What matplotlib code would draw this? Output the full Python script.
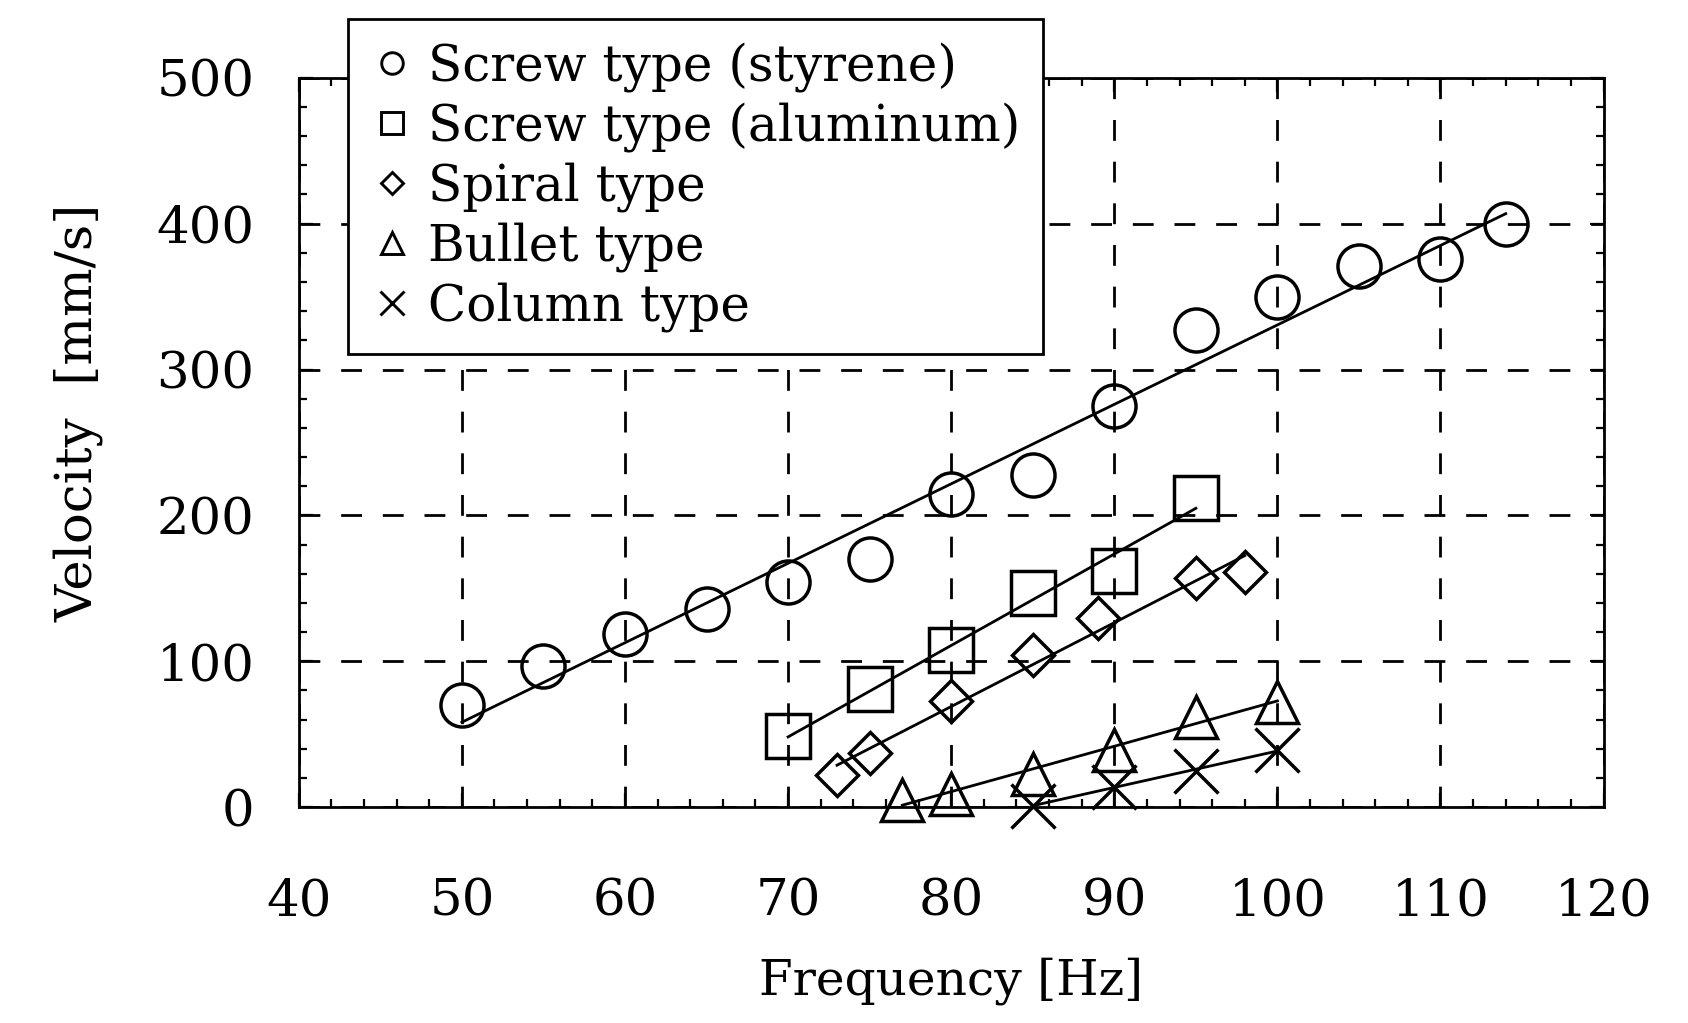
import numpy as np
import matplotlib
matplotlib.use("Agg")
import matplotlib.pyplot as plt
from matplotlib.lines import Line2D
from matplotlib.ticker import MultipleLocator

plt.rcParams['font.family'] = ['DejaVu Serif', 'Liberation Serif']

# ---- data ----
freq_styrene = [50, 55, 60, 65, 70, 75, 80, 85, 90, 95, 100, 105, 110, 114]
vel_styrene = [70, 97, 119, 136, 154, 170, 215, 228, 275, 327, 350, 371, 376, 400]

freq_alum = [70, 75, 80, 85, 90, 95]
vel_alum = [49, 81, 108, 147, 162, 212]

freq_spiral = [73, 75, 80, 85, 89, 95, 98]
vel_spiral = [22, 37, 73, 104, 130, 157, 161]

freq_bullet = [77, 80, 85, 90, 95, 100]
vel_bullet = [5, 9, 23, 39, 62, 72]

freq_column = [85, 90, 95, 100]
vel_column = [1, 14, 25, 39]

labels = ["Screw type (styrene)", "Screw type (aluminum)", "Spiral type",
          "Bullet type", "Column type"]
xticks = [40, 50, 60, 70, 80, 90, 100, 110, 120]
yticks = [0, 100, 200, 300, 400, 500]

series = [
    (freq_styrene, vel_styrene, 'o', 31, 15.5),
    (freq_alum, vel_alum, 's', 32, 16.5),
    (freq_spiral, vel_spiral, 'D', 21, 11),
    (freq_bullet, vel_bullet, '^', 30, 16),
    (freq_column, vel_column, 'x', 31, 17),
]

fig = plt.figure(figsize=(16.88, 10.23), dpi=100)
ax = fig.add_axes([0.177, 0.211, 0.773, 0.713])

for fx, fy, mk, ms, _ in series:
    fx = np.asarray(fx, float)
    fy = np.asarray(fy, float)
    k, b = np.polyfit(fx, fy, 1)
    xl = np.array([fx.min(), fx.max()])
    ax.plot(xl, k * xl + b, color='black', lw=2.0, zorder=3)
    ax.plot(fx, fy, linestyle='none', marker=mk, markersize=ms,
            markerfacecolor='none', markeredgecolor='black',
            markeredgewidth=2.5, zorder=4, clip_on=False)

ax.set_xlim(40, 120)
ax.set_ylim(0, 500)
ax.set_xticks(xticks)
ax.set_yticks(yticks)
ax.xaxis.set_minor_locator(MultipleLocator(2))
ax.yaxis.set_minor_locator(MultipleLocator(20))
ax.tick_params(which='both', direction='in', top=True, right=True,
               colors='black', width=1.6)
ax.tick_params(which='major', length=10)
ax.tick_params(which='minor', length=6)
ax.tick_params(axis='x', which='major', pad=50, labelsize=37)
ax.tick_params(axis='y', which='major', pad=32, labelsize=37)

for s in ax.spines.values():
    s.set_linewidth(2.0)
    s.set_color('black')

ax.grid(True, which='major', color='black', linewidth=2.0,
        linestyle=(0, (7.5, 7.5)), zorder=1)
ax.set_axisbelow(True)

ax.set_xlabel("Frequency [Hz]", fontsize=35)
ax.xaxis.set_label_coords(0.5, -0.205)
ax.set_ylabel("Velocity  [mm/s]", fontsize=37)
ax.yaxis.set_label_coords(-0.15, 0.54)

handles = [Line2D([], [], linestyle='none', marker=mk, markersize=lms,
                  markerfacecolor='none', markeredgecolor='black',
                  markeredgewidth=2.1)
           for (_, _, mk, _, lms) in series]
leg = ax.legend(handles, labels, loc='upper left',
                bbox_to_anchor=(0.0376, 1.080), fontsize=36,
                frameon=True, fancybox=False, edgecolor='black',
                framealpha=1.0, borderpad=0.45, handlelength=0.85,
                handletextpad=0.3, labelspacing=0.2, borderaxespad=0)
leg.get_frame().set_linewidth(2.0)
leg.set_zorder(10)

fig.savefig("out.png", dpi=100)
